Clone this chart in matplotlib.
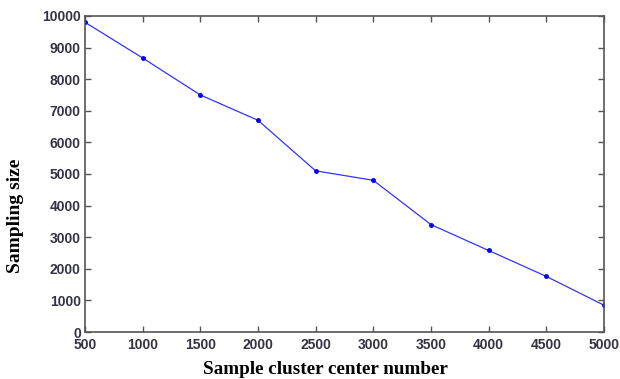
import matplotlib
matplotlib.use('Agg')
import matplotlib.pyplot as plt

centers = [500, 1000, 1500, 2000, 2500, 3000, 3500, 4000, 4500, 5000]
sizes = [9800, 8670, 7500, 6700, 5100, 4800, 3400, 2580, 1760, 850]

fig = plt.figure(figsize=(6.2, 3.79), dpi=100)
ax = fig.add_axes([0.137, 0.124, 0.837, 0.834])

ax.plot(centers, sizes, color='#3333ff', linewidth=0.9, marker='.', markersize=5,
        markerfacecolor='#0000ee', markeredgecolor='#0000ee')

ax.set_xlim(500, 5000)
ax.set_ylim(0, 10000)
ax.set_xticks(range(500, 5001, 500))
ax.set_yticks(range(0, 10001, 1000))

for s in ax.spines.values():
    s.set_color('#555555')
    s.set_linewidth(1.2)

ax.tick_params(direction='in', top=True, right=True, length=4, width=1, color='#555555',
               labelsize=10, labelcolor='#333344', pad=3)
ax.tick_params(axis='x', pad=4)
for lbl in ax.get_xticklabels() + ax.get_yticklabels():
    lbl.set_family('Liberation Sans')
    lbl.set_fontweight('bold')

ax.set_xlabel('Sample cluster center number', family='Liberation Serif', fontweight='bold',
              fontsize=13.8)
ax.set_ylabel('Sampling size', family='Liberation Serif', fontweight='bold',
              fontsize=14)
ax.xaxis.set_label_coords(0.464, -0.093)
ax.yaxis.set_label_coords(-0.117, 0.367)

fig.savefig('out.png', dpi=100)
